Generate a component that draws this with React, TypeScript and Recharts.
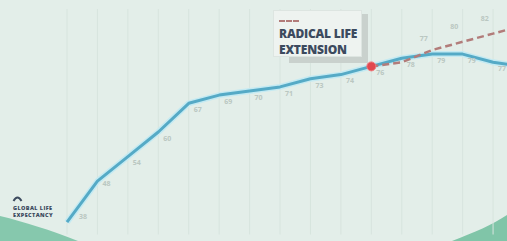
import React from 'react';
import { LineChart, Line, XAxis, YAxis, CartesianGrid } from 'recharts';

// life expectancy readings, one per column
const lifeExpectancy = [38, 48, 54, 60, 67, 69, 70, 71, 73, 74, 76, 78, 79, 79, 77, 76];
// radical life extension branches off at column 10
const radicalExtension = [null, null, null, null, null, null, null, null, null, null, 76, 77, 80, 82, 84, 86];
const branchIndex = 10;

const data = lifeExpectancy.map((v, i) => ({ idx: i, life: v, radical: radicalExtension[i] }));
const xTicks = data.map((d) => d.idx);

const VIEW_W = 507;
const labelFont = { fontFamily: '"Open Sans", sans-serif', fontSize: 7, fontWeight: 700, fill: '#bac7c1' };

const LifeLabel = (props: any) => {
  const { x, y, value, index } = props;
  const dx = index === 0 ? 16 : 9;
  const dy = index === 0 ? -5 : index === 1 ? 3 : 7;
  if (x + dx > VIEW_W + 2) return null;
  return (
    <text x={x + dx} y={y + dy} textAnchor="middle" dominantBaseline="middle" style={labelFont}>
      {value}
    </text>
  );
};

const RadicalLabel = (props: any) => {
  const { x, y, value, index } = props;
  if (value == null || index <= branchIndex) return null;
  if (x + 22 > VIEW_W - 4) return null;
  return (
    <text x={x + 22} y={y - 23} textAnchor="middle" dominantBaseline="middle" style={labelFont}>
      {value}
    </text>
  );
};

const BranchDot = (props: any) => {
  const { cx, cy, index } = props;
  if (index !== branchIndex) return <g key={`d${index}`} />;
  return <circle key={`d${index}`} cx={cx} cy={cy} r={4.5} fill="#e2484f" stroke="#f07a7e" strokeWidth={1} />;
};

export default function App() {
  return (
    <div
      style={{
        position: 'fixed',
        left: 0,
        top: 0,
        width: VIEW_W,
        height: 241,
        overflow: 'hidden',
        background: '#e3eee9',
        fontFamily: '"Open Sans", sans-serif',
      }}
    >
      {/* decorative hills */}
      <svg width={VIEW_W} height={241} style={{ position: 'absolute', left: 0, top: 0 }}>
        <path d="M0,216 C25,222 50,230 78,241 L0,241 Z" fill="#86c8ad" />
        <path d="M452,241 C475,232 492,225 507,215 L507,241 Z" fill="#80c5a8" />
      </svg>

      <LineChart
        width={540}
        height={241}
        data={data}
        margin={{ top: 9, right: 16.5, bottom: 6.5, left: 67 }}
        style={{ position: 'absolute', left: 0, top: 0 }}
      >
        <CartesianGrid vertical horizontal={false} stroke="#d7e4de" strokeWidth={1} />
        <XAxis type="number" dataKey="idx" domain={[0, 15]} ticks={xTicks} interval={0} hide />
        <YAxis type="number" domain={[35, 90]} hide allowDataOverflow />
        <Line
          dataKey="life"
          stroke="#c4eaf2"
          strokeWidth={6}
          dot={false}
          activeDot={false}
          isAnimationActive={false}
          strokeLinejoin="round"
        />
        <Line
          dataKey="life"
          stroke="#55aac6"
          strokeWidth={3}
          dot={false}
          activeDot={false}
          isAnimationActive={false}
          strokeLinejoin="round"
          label={<LifeLabel />}
        />
        <Line
          dataKey="radical"
          stroke="#b27c7a"
          strokeWidth={2.5}
          strokeDasharray="7 4"
          dot={<BranchDot />}
          activeDot={false}
          isAnimationActive={false}
          connectNulls={false}
          label={<RadicalLabel />}
        />
      </LineChart>

      {/* radical life extension legend */}
      <div
        style={{
          position: 'absolute',
          left: 289,
          top: 14,
          width: 79,
          height: 49,
          background: '#c9d1cd',
        }}
      />
      <div
        style={{
          position: 'absolute',
          left: 273,
          top: 10,
          width: 89,
          height: 47,
          background: '#eef3f0',
          border: '1px solid #dde5e1',
          boxSizing: 'border-box',
        }}
      >
        <div style={{ position: 'absolute', left: 5, top: 9, width: 20, borderTop: '2px dashed #b27c7a' }} />
        <div
          style={{
            position: 'absolute',
            left: 5,
            top: 15,
            fontSize: 12,
            lineHeight: '16px',
            fontWeight: 800,
            color: '#3c4a5e',
            letterSpacing: -0.2,
            whiteSpace: 'nowrap',
          }}
        >
          RADICAL LIFE
          <br />
          EXTENSION
        </div>
      </div>

      {/* global life expectancy legend */}
      <svg width={12} height={8} style={{ position: 'absolute', left: 12, top: 194 }}>
        <path d="M1.5,7 Q5.5,0 9.5,7" fill="none" stroke="#3c4a5e" strokeWidth={2} />
      </svg>
      <div
        style={{
          position: 'absolute',
          left: 13,
          top: 205,
          fontSize: 5.5,
          lineHeight: '7px',
          fontWeight: 800,
          color: '#3c4a5e',
          letterSpacing: 0.4,
          whiteSpace: 'nowrap',
        }}
      >
        GLOBAL LIFE
        <br />
        EXPECTANCY
      </div>
    </div>
  );
}
